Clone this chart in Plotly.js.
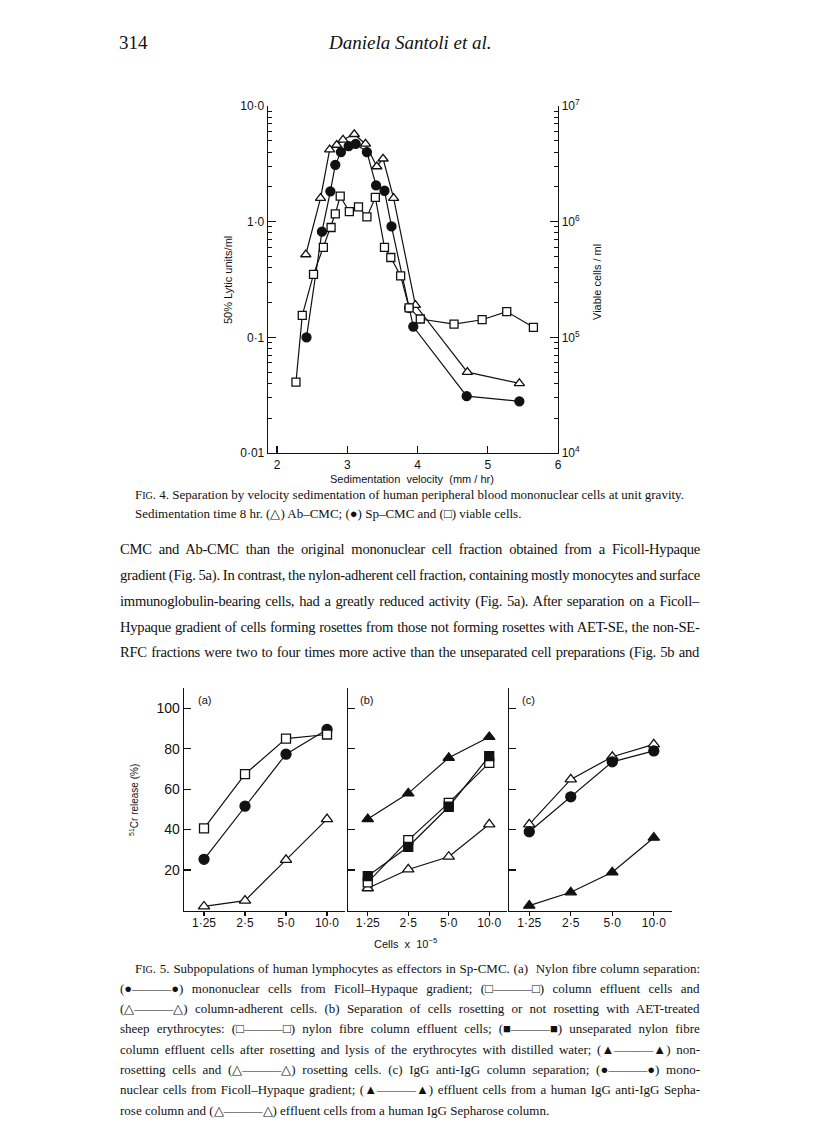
<!DOCTYPE html>
<html>
<head>
<meta charset="utf-8">
<script src="https://cdn.plot.ly/plotly-3.0.1.min.js"></script>
<style>html,body{margin:0;padding:0;background:#fff;}#chart{width:816px;height:1137px;}</style>
</head>
<body>
<div id="chart"></div>
<script>
// ---------- Fig. 4 data (velocity sedimentation) ----------
const abX = [2.41, 2.62, 2.75, 2.85, 2.94, 3.10, 3.26, 3.42, 3.51, 3.66, 3.97, 4.71, 5.45];
const abY = [0.52, 1.6, 4.2, 4.6, 5.1, 5.7, 4.7, 3.0, 3.5, 1.6, 0.19, 0.05, 0.04];
const spX = [2.42, 2.64, 2.76, 2.83, 2.91, 3.02, 3.12, 3.28, 3.41, 3.53, 3.63, 3.88, 3.94, 4.70, 5.45];
const spY = [0.10, 0.82, 1.83, 3.1, 4.0, 4.5, 4.7, 4.0, 2.06, 1.85, 0.91, 0.18, 0.124, 0.031, 0.028];
const vcX = [2.27, 2.36, 2.52, 2.66, 2.77, 2.83, 2.90, 3.03, 3.16, 3.28, 3.40, 3.53, 3.62, 3.76, 3.88, 4.04, 4.52, 4.92, 5.27, 5.65];
const vcY = [4.1e4, 1.55e5, 3.5e5, 6.0e5, 8.9e5, 1.17e6, 1.66e6, 1.22e6, 1.34e6, 1.1e6, 1.62e6, 6.0e5, 4.9e5, 3.4e5, 1.8e5, 1.44e5, 1.3e5, 1.42e5, 1.67e5, 1.22e5];
const fig4XTicks = [2, 3, 4, 5, 6];
const fig4YTicks = [0.01, 0.1, 1, 10];
const fig4YLabels = ['0·01', '0·1', '1·0', '10·0'];
const fig4Y2Ticks = [1e4, 1e5, 1e6, 1e7];
const fig4Y2Labels = ['10<sup>4</sup>', '10<sup>5</sup>', '10<sup>6</sup>', '10<sup>7</sup>'];

// ---------- Fig. 5 data (51Cr release %) ----------
const cells = [1.25, 2.5, 5.0, 10.0];
const cellLabels = ['1·25', '2·5', '5·0', '10·0'];
const aMono = [25.3, 51.6, 77.3, 89.5];
const aEffluent = [40.6, 67.4, 85.0, 87.0];
const aAdherent = [2.0, 4.9, 25.0, 45.2];
const bNonRosette = [45.2, 57.9, 75.5, 85.8];
const bUnseparated = [17.0, 31.5, 51.3, 76.3];
const bNylon = [13.9, 34.8, 53.2, 73.0];
const bRosette = [11.0, 20.3, 26.6, 42.6];
const cMono = [38.9, 56.2, 73.5, 78.9];
const cAntiIgG = [2.4, 9.0, 18.9, 36.0];
const cIgG = [42.6, 64.8, 76.0, 82.1];
const releaseTicks = [20, 40, 60, 80, 100];

// ---------- page text ----------
const bodyLines = [
  'CMC and Ab-CMC than the original mononuclear cell fraction obtained from a Ficoll-Hypaque',
  'gradient (Fig. 5a). In contrast, the nylon-adherent cell fraction, containing mostly monocytes and surface',
  'immunoglobulin-bearing cells, had a greatly reduced activity (Fig. 5a). After separation on a Ficoll–',
  'Hypaque gradient of cells forming rosettes from those not forming rosettes with AET-SE, the non-SE-',
  'RFC fractions were two to four times more active than the unseparated cell preparations (Fig. 5b and'
];
const sc = s => '<span style="font-size:10px">' + s + '</span>';
const fig4Caption = [
  'F' + sc('IG') + '. 4. Separation by velocity sedimentation of human peripheral blood mononuclear cells at unit gravity.',
  'Sedimentation time 8 hr. (△) Ab–CMC; (●) Sp–CMC and (□) viable cells.'
];
const fig5Caption = [
  'F' + sc('IG') + '. 5. Subpopulations of human lymphocytes as effectors in Sp-CMC. (a)  Nylon fibre column separation:',
  '(●———●) mononuclear cells from Ficoll–Hypaque gradient; (□———□) column effluent cells and',
  '(△———△) column-adherent cells. (b) Separation of cells rosetting or not rosetting with AET-treated',
  'sheep erythrocytes: (□———□) nylon fibre column effluent cells; (■———■) unseparated nylon fibre',
  'column effluent cells after rosetting and lysis of the erythrocytes with distilled water; (▲———▲) non-',
  'rosetting cells and (△———△) rosetting cells. (c) IgG anti-IgG column separation; (●———●) mono-',
  'nuclear cells from Ficoll–Hypaque gradient; (▲———▲) effluent cells from a human IgG anti-IgG Sepha-',
  'rose column and (△———△) effluent cells from a human IgG Sepharose column.'
];

// ---------- helpers ----------
const W = 816, H = 1137;
const px = v => v / W;
const py = v => 1 - v / H;
const BLACK = '#111';

function mk(sym, filled, size) {
  return {symbol: sym, size: size, color: filled ? BLACK : 'white', line: {color: BLACK, width: 1.3}};
}
function tr(x, y, xa, ya, sym, filled, size) {
  return {x: x, y: y, xaxis: xa, yaxis: ya, type: 'scatter', mode: 'lines+markers',
    line: {color: BLACK, width: 1.2}, marker: mk(sym, filled, size), hoverinfo: 'skip', cliponaxis: false};
}

const traces = [
  tr(vcX, vcY, 'x', 'y2', 'square', false, 8),
  tr(abX, abY, 'x', 'y', 'triangle-up', false, 9),
  tr(spX, spY, 'x', 'y', 'circle', true, 9),
  // Fig 5a
  tr(cells, aAdherent, 'x2', 'y3', 'triangle-up', false, 10),
  tr(cells, aMono, 'x2', 'y3', 'circle', true, 10),
  tr(cells, aEffluent, 'x2', 'y3', 'square', false, 9),
  // Fig 5b
  tr(cells, bRosette, 'x3', 'y4', 'triangle-up', false, 10),
  tr(cells, bNylon, 'x3', 'y4', 'square', false, 9),
  tr(cells, bUnseparated, 'x3', 'y4', 'square', true, 9),
  tr(cells, bNonRosette, 'x3', 'y4', 'triangle-up', true, 10),
  // Fig 5c
  tr(cells, cAntiIgG, 'x4', 'y5', 'triangle-up', true, 10),
  tr(cells, cIgG, 'x4', 'y5', 'triangle-up', false, 10),
  tr(cells, cMono, 'x4', 'y5', 'circle', true, 10)
];

// minor tick positions for the log axes
const minorL = [], minorR = [];
for (let e = -2; e < 1; e++) for (let m = 2; m <= 9; m++) minorL.push(m * Math.pow(10, e));
for (let e = 4; e < 7; e++) for (let m = 2; m <= 9; m++) minorR.push(m * Math.pow(10, e));

const axisFont = {family: 'Liberation Sans, Arial, sans-serif', size: 12, color: BLACK};
const baseAx = {showline: true, linecolor: BLACK, linewidth: 1.3, showgrid: false, zeroline: false,
  tickcolor: BLACK, tickwidth: 1.2, tickfont: axisFont, fixedrange: true};

const fig5Range = [-0.05, 1.132];
const f5x = (d0, d1, ya) => Object.assign({}, baseAx, {domain: [px(d0), px(d1)], anchor: ya, type: 'log',
  range: fig5Range, tickmode: 'array', tickvals: cells, ticktext: cellLabels, ticks: 'outside', ticklen: 4,
  ticklabelstandoff: -3, tickfont: {family: axisFont.family, size: 12, color: BLACK}});
const f5y = (xa, labels) => Object.assign({}, baseAx, {domain: [py(910.5), py(688)], anchor: xa, range: [0, 110],
  tickmode: 'array', tickvals: releaseTicks, ticks: 'inside', ticklen: 7, showticklabels: labels,
  tickfont: {family: axisFont.family, size: 14, color: BLACK}});

const layout = {
  width: W, height: H, margin: {l: 0, r: 0, t: 0, b: 0},
  paper_bgcolor: 'white', plot_bgcolor: 'rgba(0,0,0,0)', showlegend: false,
  font: {family: 'Liberation Serif, serif', color: BLACK},
  xaxis: Object.assign({}, baseAx, {domain: [px(268), px(558)], anchor: 'y', range: [1.872, 6.0],
    tickmode: 'array', tickvals: fig4XTicks, ticks: 'inside', ticklen: 7}),
  yaxis: Object.assign({}, baseAx, {domain: [py(453), py(106)], anchor: 'x', type: 'log', range: [-2, 1],
    tickmode: 'array', tickvals: fig4YTicks, ticktext: fig4YLabels, ticks: 'inside', ticklen: 8,
    minor: {ticks: 'inside', ticklen: 4, tickvals: minorL, tickcolor: BLACK, tickwidth: 1}}),
  yaxis2: Object.assign({}, baseAx, {overlaying: 'y', side: 'right', anchor: 'x', type: 'log', range: [4, 7],
    tickmode: 'array', tickvals: fig4Y2Ticks, ticktext: fig4Y2Labels, ticks: 'inside', ticklen: 8,
    minor: {ticks: 'inside', ticklen: 4, tickvals: minorR, tickcolor: BLACK, tickwidth: 1}}),
  xaxis2: f5x(184, 345, 'y3'),
  xaxis3: f5x(348, 507, 'y4'),
  xaxis4: f5x(509, 672, 'y5'),
  yaxis3: f5y('x2', true),
  yaxis4: f5y('x3', false),
  yaxis5: f5y('x4', false),
  annotations: []
};

const A = layout.annotations;
const justify = {};   // annotation index -> {w: target line width px, ls: letter spacing px}
function note(text, x, y, opts, width, ls) {
  if (width) justify[A.length] = {w: width, ls: ls || 0};
  A.push(Object.assign({text: text, xref: 'paper', yref: 'paper', x: px(x), y: py(y), showarrow: false,
    xanchor: 'left', yanchor: 'middle', align: 'left',
    font: {family: 'Liberation Serif, serif', size: 15, color: BLACK}}, opts || {}));
}
const sans = (size) => ({family: 'Liberation Sans, Arial, sans-serif', size: size, color: BLACK});
const serif = (size) => ({family: 'Liberation Serif, serif', size: size, color: BLACK});

// header
note('314', 117, 43, {font: serif(19)});
note('<i>Daniela Santoli et al.</i>', 410, 43, {xanchor: 'center', align: 'center', font: serif(19)});
// fig 4 axis titles
note('50% Lytic units/ml', 228, 280, {xanchor: 'center', align: 'center', textangle: -90, font: sans(11)});
note('Viable cells / ml', 597, 282, {xanchor: 'center', align: 'center', textangle: -90, font: sans(11)});
note('Sedimentation  velocity  (mm / hr)', 412, 479, {xanchor: 'center', align: 'center', font: sans(11)});
// fig 4 caption
note(fig4Caption[0], 133, 494, {font: serif(13)}, 549);
note(fig4Caption[1], 133, 513, {font: serif(13)});
// body text (justified 118 -> 698)
const bodyY = [549, 575, 601, 627, 652];
bodyLines.forEach((t, i) => note(t, 118, bodyY[i], {font: serif(14.6)}, 580, -0.25));
// fig 5 labels
note('(a)', 196, 700, {font: sans(11)});
note('(b)', 358, 700, {font: sans(11)});
note('(c)', 520, 700, {font: sans(11)});
note('<sup>51</sup>Cr release (%)', 134, 800, {xanchor: 'center', align: 'center', textangle: -90, font: sans(10)});
note('Cells  x  10<sup>−5</sup>', 405, 943, {xanchor: 'center', align: 'center', font: sans(11)});
// fig 5 caption
fig5Caption.forEach((t, i) => note(t, i === 0 ? 133 : 118, 968 + i * 20.3, {font: serif(13)},
  i === 0 ? 565 : (i < fig5Caption.length - 1 ? 580 : 0)));

Plotly.newPlot('chart', traces, layout, {staticPlot: true, displayModeBar: false}).then(gd => {
  // justify printed text lines by widening the word spacing (left edge stays fixed)
  gd.querySelectorAll('g.annotation').forEach(g => {
    const idx = +g.getAttribute('data-index');
    const j = justify[idx];
    if (!j) return;
    const t = g.querySelector('text.annotation-text');
    if (!t) return;
    t.setAttribute('text-anchor', 'start');
    if (j.ls) t.style.letterSpacing = j.ls + 'px';
    const w = t.getBBox().width;
    const spaces = (t.textContent.match(/ /g) || []).length;
    if (spaces > 0) t.style.wordSpacing = ((j.w - w) / spaces).toFixed(2) + 'px';
  });
});
</script>
</body>
</html>
